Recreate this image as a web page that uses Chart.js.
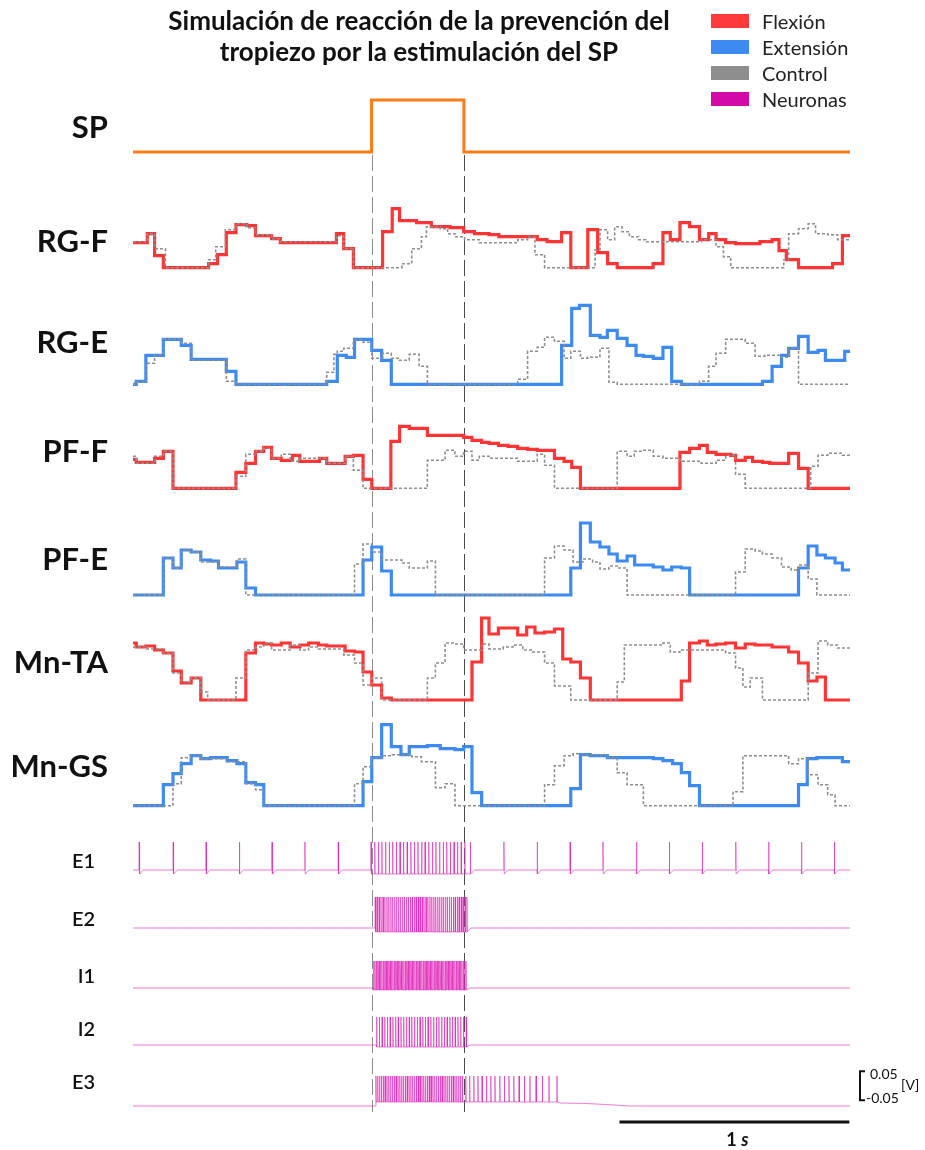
<!DOCTYPE html>
<html>
<head>
<meta charset="utf-8">
<script src="https://cdn.jsdelivr.net/npm/chart.js@4.4.1/dist/chart.umd.min.js"></script>
<style>
  body { margin: 0; background: #fff; }
  #wrap { position: relative; width: 925px; height: 1150px; font-family: Lato, sans-serif; color: #111; }
  #chart { position: absolute; left: 0; top: 0; }
  #title { position: absolute; left: 119px; top: 5px; width: 600px; text-align: center;
           font-weight: bold; font-size: 26px; line-height: 31px; }
  .leg { position: absolute; left: 711px; height: 26px; display: flex; align-items: center;
         font-size: 20px; color: #222; white-space: nowrap; }
  .leg i { display: inline-block; width: 38px; height: 14px; margin-right: 13px; }
</style>
</head>
<body>
<div id="wrap">
  <canvas id="chart" width="925" height="1150"></canvas>
  <div id="title">Simulación de reacción de la prevención del<br>tropiezo por la estimulación del SP</div>
  <div id="legend"></div>
</div>
<script>
// time in ms, activity in a.u., membrane potential in V

const T_END = 3120;

const LEGEND_LABELS = ['Flexión', 'Extensión', 'Control', 'Neuronas'];
const LEGEND_COLORS = ['#ff3a3a', '#3d8bf2', '#8e8e8e', '#d10aa8'];

// SP stimulation (on / off)
const SP_TIMES = [0, 1038, 1440, T_END];
const SP_LEVEL = [0, 1, 0, 0];

// step traces: [time, activity]
const RGF_FLEX = [[0,25],[62,34],[94,12],[132,0],[329,4],[368,13],[406,35],[448,43],[495,42],[533,32],[603,29],[641,25],[885,34],[917,19],[959,0],[1086,36],[1128,59],[1160,47],[1234,45],[1298,41],[1380,40],[1439,36],[1486,34],[1549,33],[1592,31],[1759,28],[1802,26],[1865,35],[1905,0],[1979,38],[2022,15],[2065,4],[2107,0],[2263,4],[2306,35],[2338,28],[2380,45],[2422,41],[2465,28],[2505,34],[2537,28],[2579,25],[2622,24],[2728,26],[2781,28],[2811,17],[2843,8],[2896,0],[3044,4],[3087,32],[3120,32]];
const RGF_CTRL = [[0,26],[62,34],[94,19],[141,0],[329,8],[360,21],[402,38],[448,44],[495,40],[533,33],[603,29],[641,26],[885,32],[917,19],[959,0],[1170,4],[1213,19],[1255,31],[1277,41],[1337,39],[1369,34],[1401,31],[1443,28],[1507,25],[1674,28],[1717,31],[1749,13],[1791,0],[2011,18],[2032,38],[2065,28],[2096,41],[2128,36],[2160,31],[2200,28],[2232,26],[2473,28],[2537,21],[2569,11],[2601,0],[2832,8],[2853,34],[2896,39],[2938,44],[2970,34],[3023,33],[3066,28],[3120,28]];

const RGE_EXT = [[0,0],[14,3],[56,29],[132,45],[210,39],[253,25],[406,13],[448,0],[843,3],[889,29],[928,27],[964,45],[1039,34],[1082,24],[1124,0],[1865,39],[1909,76],[1943,79],[1990,49],[2032,47],[2064,54],[2107,46],[2150,39],[2189,29],[2221,28],[2264,26],[2306,37],[2344,3],[2386,0],[2739,3],[2781,18],[2822,29],[2853,36],[2896,48],[2938,32],[2981,34],[3013,24],[3097,33],[3120,33]];
const RGE_CTRL = [[0,0],[14,2],[56,21],[94,29],[132,45],[210,41],[253,24],[406,3],[448,0],[843,12],[874,30],[889,33],[917,36],[959,44],[1001,42],[1039,26],[1086,31],[1124,26],[1160,24],[1202,30],[1245,18],[1281,0],[1674,5],[1717,33],[1759,37],[1791,47],[1834,43],[1876,26],[1905,33],[1947,26],[1979,27],[2032,36],[2071,2],[2107,0],[2465,3],[2505,18],[2537,31],[2579,45],[2664,41],[2707,28],[2750,29],[2811,27],[2853,36],[2896,0],[3120,0]];

const PFF_FLEX = [[0,29],[14,26],[94,30],[132,37],[174,0],[448,16],[491,25],[533,37],[569,41],[603,30],[645,28],[694,33],[726,27],[811,30],[843,25],[923,32],[959,33],[1001,9],[1039,0],[1122,47],[1160,62],[1202,60],[1281,53],[1401,53],[1439,51],[1475,48],[1517,46],[1549,45],[1590,43],[1632,42],[1674,40],[1717,39],[1759,38],[1834,30],[1876,27],[1909,21],[1947,0],[2380,36],[2422,40],[2465,43],[2499,36],[2537,34],[2601,33],[2622,28],[2664,31],[2696,27],[2739,26],[2771,25],[2853,35],[2896,20],[2938,0],[3120,0]];
const PFF_CTRL = [[0,32],[14,25],[94,32],[132,37],[174,0],[448,12],[491,34],[533,37],[569,40],[603,30],[645,34],[684,27],[726,30],[843,25],[923,32],[959,18],[1001,0],[1281,28],[1358,38],[1401,32],[1439,37],[1475,28],[1507,32],[1549,30],[1674,27],[1759,34],[1791,23],[1834,0],[2107,37],[2150,32],[2181,37],[2211,38],[2264,32],[2306,30],[2380,27],[2473,25],[2537,28],[2579,33],[2622,14],[2664,0],[2949,22],[2981,33],[3023,35],[3087,33],[3120,33]];

const PFE_EXT = [[0,0],[132,37],[174,27],[210,45],[253,43],[295,35],[338,34],[372,27],[452,33],[491,7],[533,0],[1001,35],[1039,48],[1082,24],[1124,0],[1905,27],[1947,72],[1990,53],[2032,48],[2071,41],[2107,34],[2150,39],[2183,30],[2264,28],[2306,25],[2344,28],[2386,27],[2422,0],[2896,27],[2938,49],[2976,40],[3013,37],[3055,32],[3087,25],[3120,25]];
const PFE_CTRL = [[0,0],[132,37],[174,27],[210,45],[253,43],[295,33],[372,28],[452,36],[491,0],[964,31],[1001,51],[1039,43],[1082,35],[1170,32],[1202,27],[1281,34],[1316,0],[1791,37],[1834,49],[1876,45],[1915,33],[1958,36],[2000,33],[2032,26],[2071,29],[2107,27],[2150,0],[2622,23],[2664,46],[2707,44],[2739,41],[2781,37],[2822,28],[2864,25],[2896,30],[2938,16],[2976,0],[3120,0]];

const MNTA_FLEX = [[0,57],[14,53],[56,54],[94,50],[132,47],[174,29],[210,17],[253,22],[295,0],[491,47],[533,57],[569,56],[603,55],[645,57],[684,53],[726,55],[764,57],[807,55],[843,54],[923,49],[964,48],[1001,28],[1039,15],[1082,2],[1124,0],[1475,38],[1517,82],[1549,66],[1590,72],[1674,65],[1713,73],[1749,67],[1791,68],[1834,71],[1870,41],[1905,38],[1947,22],[1990,0],[2386,19],[2422,57],[2465,59],[2499,55],[2537,56],[2579,57],[2622,52],[2664,56],[2707,55],[2781,53],[2853,48],[2896,37],[2938,19],[2976,23],[3013,0],[3120,0]];
const MNTA_CTRL = [[0,53],[56,51],[132,47],[174,27],[210,18],[253,22],[295,8],[325,0],[448,22],[491,50],[533,53],[569,57],[603,50],[684,55],[726,50],[764,53],[807,51],[917,45],[964,37],[1001,15],[1039,22],[1082,0],[1281,22],[1316,37],[1358,57],[1401,56],[1439,50],[1517,56],[1549,51],[1611,53],[1653,55],[1696,50],[1738,48],[1791,37],[1834,14],[1905,0],[2107,18],[2138,55],[2306,57],[2338,48],[2380,50],[2579,47],[2622,32],[2654,13],[2686,22],[2739,0],[2938,27],[2981,59],[3023,55],[3066,52],[3120,52]];

const MNGS_EXT = [[0,0],[132,21],[174,32],[210,42],[253,50],[295,47],[338,48],[410,45],[452,42],[491,23],[533,21],[569,0],[1001,24],[1039,48],[1082,81],[1124,59],[1166,51],[1202,59],[1281,60],[1337,57],[1401,56],[1439,59],[1475,13],[1517,0],[1905,17],[1947,51],[1990,50],[2064,48],[2264,47],[2306,45],[2348,42],[2386,33],[2422,20],[2465,0],[2896,21],[2934,47],[2976,48],[3087,44],[3120,44]];
const MNGS_CTRL = [[0,0],[174,22],[210,48],[253,50],[295,47],[410,44],[491,22],[533,16],[569,0],[964,22],[1001,39],[1039,48],[1082,50],[1128,51],[1213,49],[1255,44],[1316,18],[1358,22],[1401,0],[1791,21],[1834,40],[1876,50],[1915,52],[1968,51],[2064,48],[2107,33],[2150,21],[2221,0],[2611,14],[2654,50],[2853,42],[2896,47],[2938,31],[2981,21],[3023,11],[3055,0],[3120,0]];

// neurons: spike times (ms) and [rest, peak, after-hyperpolarisation] in V
const E1_SPIKES = [27,175,318,463,605,748,893,1036,1052,1068,1083,1099,1115,1130,1146,1162,1177,1193,1209,1224,1240,1256,1271,1287,1303,1318,1334,1350,1365,1381,1397,1412,1428,1444,1468,1614,1759,1902,2045,2191,2334,2477,2623,2766,2909,3052];
const E2_SPIKES = [1054,1062,1071,1079,1088,1096,1105,1113,1122,1130,1139,1147,1156,1164,1173,1181,1190,1198,1207,1215,1224,1232,1241,1249,1258,1266,1275,1283,1292,1300,1309,1317,1326,1334,1343,1351,1360,1368,1377,1385,1394,1402,1411,1419,1428,1436,1445,1453];
const I1_SPIKES = [1047,1053,1059,1065,1071,1077,1083,1089,1095,1101,1107,1113,1119,1125,1131,1137,1143,1149,1155,1161,1167,1173,1179,1185,1191,1197,1203,1209,1215,1221,1227,1233,1239,1245,1251,1257,1263,1269,1275,1281,1287,1293,1299,1305,1311,1317,1323,1329,1335,1341,1347,1353,1359,1365,1371,1377,1383,1389,1395,1401,1407,1413,1419,1425,1431,1437,1443,1449];
const I2_SPIKES = [1060,1072,1084,1095,1107,1119,1131,1143,1154,1166,1178,1190,1202,1213,1225,1237,1249,1261,1272,1284,1296,1308,1320,1331,1343,1355,1367,1379,1390,1402,1414,1426,1438,1450];
const E3_SPIKES = [1057,1065,1073,1081,1089,1097,1105,1113,1121,1129,1137,1145,1153,1161,1169,1177,1185,1193,1201,1209,1217,1225,1233,1241,1249,1257,1265,1273,1281,1289,1297,1305,1313,1321,1329,1337,1345,1353,1361,1369,1377,1385,1393,1401,1409,1417,1425,1433,1448,1465,1483,1501,1519,1538,1557,1575,1596,1616,1636,1657,1680,1703,1727,1754,1781,1810,1845];
const E3_TAIL = [[1860,-0.0597],[1960,-0.061],[2060,-0.065],[2160,-0.07]];

const E1_LV = [-0.07, 0.0266, -0.0838];
const E2_LV = [-0.07, 0.0369, -0.0838];
const I1_LV = [-0.07, 0.0231, -0.0769];
const I2_LV = [-0.07, 0.0266, -0.0769];
const E3_LV = [-0.07, 0.0334, -0.0562];

const SCALEBAR_START = 2117;   // 1 s bar
const VOLT_MARKS = [0.05, -0.05];

// colours
const RED = '#ff3535';
const BLUE = '#3d8bf2';
const GREY = '#8e8e8e';
const ORANGE = '#ff7b15';
const PINK = 'rgba(222, 40, 186, 0.62)';

// ---------- helpers ----------
function steps(pairs, axis, color, dashed) {
  return {
    data: pairs.map(p => ({ x: p[0], y: p[1] })),
    yAxisID: axis,
    stepped: true,
    borderColor: color,
    borderWidth: dashed ? 1.6 : 3.2,
    borderDash: dashed ? [3, 2] : [],
    pointRadius: 0,
    fill: false,
    order: dashed ? 0 : 1,
  };
}

function spikeTrace(spikes, lv, holdMs, tail) {
  const [rest, peak, ahp] = lv;
  const pts = [{ x: 0, y: rest }];
  let cur = rest;
  spikes.forEach((s, i) => {
    const next = spikes[i + 1];
    pts.push({ x: s - 1, y: cur });
    pts.push({ x: s, y: peak });
    pts.push({ x: s + 1.5, y: ahp });
    cur = ahp;
    if ((next === undefined && !tail) || (next !== undefined && next - s > holdMs)) {
      pts.push({ x: s + 18, y: rest });
      cur = rest;
    }
  });
  (tail || []).forEach(p => pts.push({ x: p[0], y: p[1] }));
  pts.push({ x: T_END, y: rest });
  return pts;
}

function neuron(pts, axis) {
  return {
    data: pts, yAxisID: axis, borderColor: PINK, borderWidth: 1,
    pointRadius: 0, fill: false, borderJoinStyle: 'bevel', order: 2,
  };
}

function rowAxis(name, w, order, min, max, labelAt, big) {
  return {
    type: 'linear', position: 'left', stack: 'rows', stackWeight: w, weight: order,
    min, max, bounds: 'data',
    grid: { display: false, drawTicks: false },
    border: { display: false },
    afterBuildTicks: ax => { ax.ticks = [{ value: labelAt }]; },
    afterFit: ax => { ax.width = 133; ax.paddingTop = 0; ax.paddingBottom = 0; },
    ticks: {
      callback: () => name,
      color: '#111',
      padding: big ? 25 : 38,
      font: { family: 'Lato', size: big ? 31 : 20, weight: big ? 'bold' : '600' },
    },
  };
}

// ---------- legend ----------
const legendEl = document.getElementById('legend');
LEGEND_LABELS.forEach((lab, i) => {
  const d = document.createElement('div');
  d.className = 'leg';
  d.style.top = (8 + i * 26) + 'px';
  d.innerHTML = '<i style="background:' + LEGEND_COLORS[i] + '"></i>' + lab;
  legendEl.appendChild(d);
});

// ---------- plugins ----------
const stimLines = {
  id: 'stimLines',
  beforeDatasetsDraw(chart) {
    const { ctx, scales } = chart;
    const top = scales.ySP.getPixelForValue(0) + 3;
    const bottom = chart.chartArea.bottom - 8;
    [[SP_TIMES[1], 'rgba(130,130,130,0.9)'], [SP_TIMES[2], 'rgba(55,55,55,0.9)']].forEach(([t, c]) => {
      const x = Math.round(scales.x.getPixelForValue(t)) + 0.5;
      ctx.save();
      ctx.strokeStyle = c;
      ctx.lineWidth = 1;
      ctx.setLineDash([16, 5]);
      ctx.beginPath();
      ctx.moveTo(x, top);
      ctx.lineTo(x, bottom);
      ctx.stroke();
      ctx.restore();
    });
  },
};

const scaleMarks = {
  id: 'scaleMarks',
  afterDraw(chart) {
    const { ctx, scales, chartArea } = chart;
    // time bar
    const x0 = scales.x.getPixelForValue(SCALEBAR_START);
    const x1 = scales.x.getPixelForValue(SCALEBAR_START + 1000);
    const yb = chartArea.bottom + 2;
    ctx.save();
    ctx.fillStyle = '#111';
    ctx.fillRect(x0, yb - 1.5, x1 - x0, 3);
    const cx = (x0 + x1) / 2;
    ctx.textBaseline = 'alphabetic';
    ctx.font = 'bold 18px Lato';
    const w1 = ctx.measureText('1 ').width;
    ctx.font = 'italic bold 18px Lato';
    const w2 = ctx.measureText('s').width;
    let tx = cx - (w1 + w2) / 2 + 3;
    ctx.font = 'bold 18px Lato';
    ctx.fillText('1 ', tx, yb + 24);
    ctx.font = 'italic bold 18px Lato';
    ctx.fillText('s', tx + w1, yb + 24);

    // voltage bracket on E3
    const yTop = scales.yE3.getPixelForValue(VOLT_MARKS[0]);
    const yBot = scales.yE3.getPixelForValue(VOLT_MARKS[1]);
    const bx = chartArea.right + 10;
    ctx.strokeStyle = '#111';
    ctx.lineWidth = 2;
    ctx.beginPath();
    ctx.moveTo(bx + 5, yTop);
    ctx.lineTo(bx, yTop);
    ctx.lineTo(bx, yBot);
    ctx.lineTo(bx + 5, yBot);
    ctx.stroke();
    ctx.font = '14px Lato';
    ctx.fillText(String(VOLT_MARKS[0]), bx + 10, yTop + 8);
    ctx.fillText(String(VOLT_MARKS[1]), bx + 6, yBot + 3);
    ctx.fillText('[V]', bx + 41, yTop + 19);
    ctx.restore();
  },
};

// ---------- chart ----------
const datasets = [
  {
    data: SP_TIMES.map((t, i) => ({ x: t, y: SP_LEVEL[i] })),
    yAxisID: 'ySP', stepped: true, borderColor: ORANGE, borderWidth: 3,
    pointRadius: 0, fill: false, order: 1,
  },
  steps(RGF_FLEX, 'yRGF', RED), steps(RGF_CTRL, 'yRGF', GREY, true),
  steps(RGE_EXT, 'yRGE', BLUE), steps(RGE_CTRL, 'yRGE', GREY, true),
  steps(PFF_FLEX, 'yPFF', RED), steps(PFF_CTRL, 'yPFF', GREY, true),
  steps(PFE_EXT, 'yPFE', BLUE), steps(PFE_CTRL, 'yPFE', GREY, true),
  steps(MNTA_FLEX, 'yMNTA', RED), steps(MNTA_CTRL, 'yMNTA', GREY, true),
  steps(MNGS_EXT, 'yMNGS', BLUE), steps(MNGS_CTRL, 'yMNGS', GREY, true),
  neuron(spikeTrace(E1_SPIKES, E1_LV, 25), 'yE1'),
  neuron(spikeTrace(E2_SPIKES, E2_LV, 25), 'yE2'),
  neuron(spikeTrace(I1_SPIKES, I1_LV, 25), 'yI1'),
  neuron(spikeTrace(I2_SPIKES, I2_LV, 25), 'yI2'),
  neuron(spikeTrace(E3_SPIKES, E3_LV, 100, E3_TAIL), 'yE3'),
];

new Chart(document.getElementById('chart'), {
  type: 'line',
  data: { datasets },
  plugins: [stimLines, scaleMarks],
  options: {
    responsive: false,
    animation: false,
    events: [],
    layout: { padding: { left: 0, right: 75, top: 85, bottom: 30 } },
    plugins: { legend: { display: false }, tooltip: { enabled: false } },
    scales: {
      x: { type: 'linear', min: 0, max: T_END, display: false },
      ySP:   rowAxis('SP',    95, 12, -0.538, 1.288, 0.46, true),
      yRGF:  rowAxis('RG-F', 110, 11, -22.3, 87.7, 25.7, true),
      yRGE:  rowAxis('RG-E', 110, 10, -15.7, 94.3, 41, true),
      yPFF:  rowAxis('PF-F', 105,  9, -16.7, 88.3, 36, true),
      yPFE:  rowAxis('PF-E', 105,  8, -15, 90, 35, true),
      yMNTA: rowAxis('Mn-TA', 105, 7, -15, 90, 37, true),
      yMNGS: rowAxis('Mn-GS', 110, 6, -19.3, 90.7, 38.7, true),
      yE1:   rowAxis('E1', 60, 5, -0.1217, 0.0852, -0.0424, false),
      yE2:   rowAxis('E2', 60, 4, -0.1286, 0.0783, -0.0424, false),
      yI1:   rowAxis('I1', 58, 3, -0.1217, 0.0783, -0.032, false),
      yI2:   rowAxis('I2', 59, 2, -0.1286, 0.0748, -0.0183, false),
      yE3:   rowAxis('E3', 58, 1, -0.1183, 0.0817, 0.0093, false),
    },
  },
});
</script>
</body>
</html>
